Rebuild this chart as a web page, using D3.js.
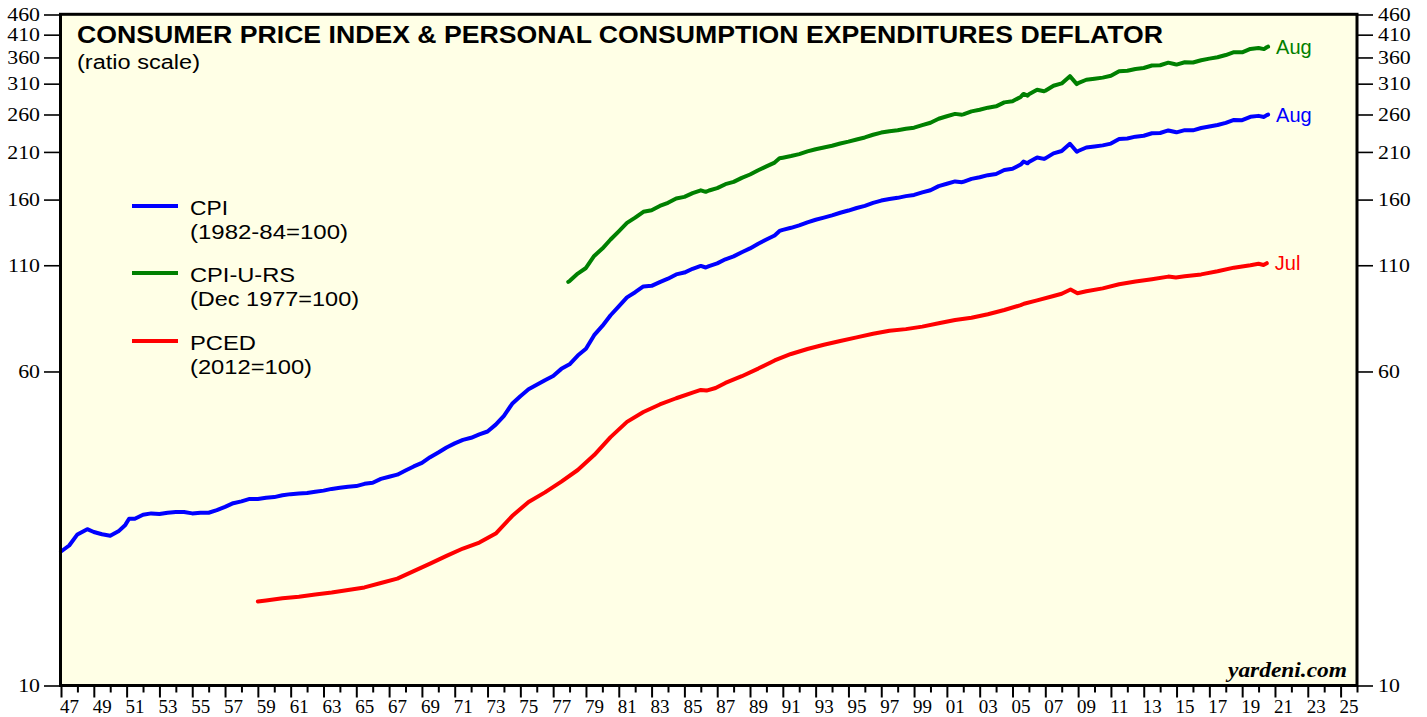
<!DOCTYPE html>
<html><head><meta charset="utf-8">
<script src="https://cdn.jsdelivr.net/npm/d3@7"></script>
<style>
html,body{margin:0;padding:0;background:#fff;}
svg{display:block;}
</style></head>
<body>
<svg id="chart" width="1427" height="717"></svg>
<script>
// ---- data (decimal year, index value) ----
const cpi = [[1947.0,21.48],[1947.5,22.23],[1948.0,23.68],[1948.6,24.40],[1949.0,24.01],[1949.5,23.70],[1950.0,23.51],[1950.5,24.10],[1950.92,25.00],[1951.15,25.90],[1951.5,25.90],[1952.0,26.50],[1952.5,26.70],[1953.0,26.60],[1953.5,26.80],[1954.0,26.90],[1954.5,26.90],[1955.0,26.70],[1955.5,26.80],[1956.0,26.80],[1956.5,27.20],[1957.0,27.70],[1957.5,28.30],[1958.0,28.60],[1958.5,29.00],[1959.0,29.00],[1959.5,29.20],[1960.0,29.30],[1960.5,29.60],[1961.0,29.80],[1961.5,29.90],[1962.0,30.00],[1962.5,30.20],[1963.0,30.40],[1963.5,30.70],[1964.0,30.90],[1964.5,31.10],[1965.0,31.20],[1965.5,31.60],[1966.0,31.80],[1966.5,32.50],[1967.0,32.90],[1967.5,33.30],[1968.0,34.10],[1968.5,34.90],[1969.0,35.60],[1969.5,36.80],[1970.0,37.80],[1970.5,38.90],[1971.0,39.80],[1971.5,40.60],[1972.0,41.10],[1972.5,41.90],[1973.0,42.60],[1973.5,44.30],[1974.0,46.60],[1974.5,49.90],[1975.0,52.10],[1975.5,54.20],[1976.0,55.60],[1976.5,57.10],[1977.0,58.50],[1977.5,60.90],[1978.0,62.50],[1978.5,65.70],[1979.0,68.30],[1979.5,73.80],[1980.0,77.80],[1980.5,82.70],[1981.0,87.00],[1981.5,91.60],[1982.0,94.30],[1982.5,97.50],[1983.0,97.80],[1983.5,99.90],[1984.0,101.90],[1984.5,104.40],[1985.0,105.50],[1985.5,107.80],[1986.0,109.60],[1986.3,108.60],[1986.5,109.50],[1987.0,111.20],[1987.5,113.80],[1988.0,115.70],[1988.5,118.50],[1989.0,121.10],[1989.5,124.40],[1990.0,127.40],[1990.5,130.40],[1990.8,133.80],[1991.0,134.60],[1991.5,136.20],[1992.0,138.10],[1992.5,140.50],[1993.0,142.60],[1993.5,144.40],[1994.0,146.20],[1994.5,148.40],[1995.0,150.30],[1995.5,152.50],[1996.0,154.40],[1996.5,157.00],[1997.0,159.10],[1997.5,160.50],[1998.0,161.60],[1998.5,163.20],[1999.0,164.30],[1999.5,166.70],[2000.0,168.80],[2000.5,172.80],[2001.0,175.10],[2001.5,177.50],[2001.92,176.70],[2002.0,177.10],[2002.5,180.10],[2003.0,181.70],[2003.5,183.90],[2004.0,185.20],[2004.5,189.40],[2005.0,190.70],[2005.5,195.40],[2005.67,198.80],[2005.92,196.80],[2006.0,198.30],[2006.5,203.50],[2006.92,201.80],[2007.0,202.42],[2007.5,208.30],[2008.0,211.08],[2008.5,219.96],[2008.92,210.23],[2009.0,211.14],[2009.5,215.35],[2010.0,216.69],[2010.5,218.01],[2011.0,220.22],[2011.5,225.92],[2012.0,226.67],[2012.5,229.10],[2013.0,230.28],[2013.5,233.60],[2014.0,233.92],[2014.5,237.40],[2014.92,235.20],[2015.0,234.80],[2015.5,237.80],[2016.0,237.50],[2016.5,240.65],[2017.0,242.84],[2017.5,244.79],[2018.0,247.87],[2018.5,252.01],[2019.0,251.71],[2019.5,256.57],[2020.0,257.97],[2020.33,256.39],[2020.5,259.10],[2020.58,259.92]];

const cpiURS = [[1977.92,100.0],[1978.0,100.5],[1978.5,104.9],[1979.0,108.3],[1979.5,116.0],[1980.0,121.0],[1980.5,127.4],[1981.0,133.5],[1981.5,140.1],[1982.0,144.3],[1982.5,149.2],[1983.0,150.6],[1983.5,154.3],[1984.0,157.1],[1984.5,161.0],[1985.0,162.5],[1985.5,166.0],[1986.0,168.7],[1986.3,167.2],[1986.5,168.5],[1987.0,170.8],[1987.5,174.7],[1988.0,177.0],[1988.5,181.1],[1989.0,184.6],[1989.5,189.2],[1990.0,193.4],[1990.5,197.6],[1990.8,202.5],[1991.0,203.2],[1991.5,205.1],[1992.0,207.4],[1992.5,210.6],[1993.0,213.2],[1993.5,215.3],[1994.0,217.5],[1994.5,220.4],[1995.0,222.7],[1995.5,225.5],[1996.0,228.1],[1996.5,231.6],[1997.0,234.5],[1997.5,236.4],[1998.0,237.7],[1998.5,239.7],[1999.0,241.2],[1999.5,244.7],[2000.0,248.0],[2000.5,253.8],[2001.0,257.4],[2001.5,260.9],[2001.92,259.7],[2002.0,260.3],[2002.5,264.7],[2003.0,267.1],[2003.5,270.3],[2004.0,272.4],[2004.5,278.6],[2005.0,280.5],[2005.5,287.4],[2005.67,292.4],[2005.92,289.5],[2006.0,291.7],[2006.5,299.3],[2006.92,296.8],[2007.0,297.8],[2007.5,306.4],[2008.0,310.5],[2008.5,323.6],[2008.92,309.2],[2009.0,310.8],[2009.5,317.0],[2010.0,319.0],[2010.5,320.9],[2011.0,324.2],[2011.5,332.6],[2012.0,333.7],[2012.5,337.2],[2013.0,339.0],[2013.5,343.9],[2014.0,344.3],[2014.5,349.5],[2014.92,346.2],[2015.0,345.7],[2015.5,350.2],[2016.0,349.7],[2016.5,354.4],[2017.0,357.6],[2017.5,360.4],[2018.0,365.0],[2018.5,371.1],[2019.0,370.7],[2019.5,377.9],[2020.0,379.9],[2020.33,377.6],[2020.5,381.6],[2020.58,382.8]];

const pced = [[1959.0,16.15],[1959.5,16.25],[1960.5,16.45],[1961.5,16.6],[1962.5,16.8],[1963.5,17.0],[1964.5,17.25],[1965.5,17.5],[1966.5,17.95],[1967.5,18.4],[1968.5,19.2],[1969.5,20.05],[1970.5,20.95],[1971.5,21.85],[1972.5,22.6],[1973.5,23.8],[1974.5,26.3],[1975.5,28.5],[1976.5,30.1],[1977.5,32.0],[1978.5,34.2],[1979.5,37.25],[1980.5,41.25],[1981.5,45.0],[1982.5,47.6],[1983.5,49.7],[1984.5,51.5],[1985.5,53.2],[1986.0,54.0],[1986.35,53.8],[1986.9,54.6],[1987.5,56.2],[1988.5,58.4],[1989.5,61.0],[1990.5,63.9],[1991.5,66.3],[1992.5,68.2],[1993.5,69.9],[1994.5,71.4],[1995.5,72.9],[1996.5,74.4],[1997.5,75.7],[1998.5,76.4],[1999.5,77.5],[2000.5,79.0],[2001.5,80.5],[2002.5,81.5],[2003.5,83.2],[2004.5,85.2],[2005.5,87.6],[2005.7,88.3],[2006.5,90.0],[2007.5,92.3],[2008.0,93.5],[2008.54,95.8],[2008.96,93.8],[2009.5,94.8],[2010.5,96.4],[2011.5,98.7],[2012.5,100.3],[2013.5,101.6],[2014.5,103.1],[2014.96,102.6],[2015.5,103.3],[2016.5,104.4],[2017.5,106.3],[2018.5,108.5],[2019.5,110.0],[2020.0,110.9],[2020.3,110.2],[2020.5,111.3]];

const yTicks = [10, 60, 110, 160, 210, 260, 310, 360, 410, 460];
const xYears = d3.range(1947, 2027);
const seriesNames = ["CPI", "CPI-U-RS", "PCED"];
const seriesBases = ["(1982-84=100)", "(Dec 1977=100)", "(2012=100)"];
const seriesColors = ["#0000FF", "#008000", "#FF0000"];
const endLabels = ["Aug", "Aug", "Jul"];
const seriesData = [cpi, cpiURS, pced];

const titleText = "CONSUMER PRICE INDEX & PERSONAL CONSUMPTION EXPENDITURES DEFLATOR";
const subtitleText = "(ratio scale)";
const sourceText = "yardeni.com";

// ---- layout ----
const svg = d3.select("#chart");
const L = 60.5, R = 1357, T = 14.3, B = 685.5;
const x = d3.scaleLinear().domain([1947, 2026]).range([61, 1357]);
const y = d3.scaleLog().domain([10, 460]).range([B, 14.5]);
const SANS = "'Liberation Sans', Arial, Helvetica, sans-serif";
const SERIF = "'Liberation Serif', 'Times New Roman', serif";

svg.append("rect").attr("x", L).attr("y", T).attr("width", R - L).attr("height", B - T)
  .attr("fill", "#FFFFE6");

// left axis
const gl = svg.append("g").attr("transform", `translate(${L - 0.5},0)`)
  .call(d3.axisLeft(y).tickValues(yTicks).tickSize(16).tickPadding(0).tickFormat(d3.format("d")));
gl.select(".domain").remove();
gl.selectAll(".tick line").attr("stroke", "#000").attr("stroke-width", 1.6);
gl.selectAll(".tick text").attr("x", null).attr("dy", "0.33em")
  .attr("transform", "translate(-20,0) scale(1.15,1)")
  .style("font-family", SERIF).style("font-size", "19px").attr("fill", "#000");

// right axis
const gr = svg.append("g").attr("transform", `translate(${R + 1},0)`)
  .call(d3.axisRight(y).tickValues(yTicks).tickSize(15).tickPadding(0).tickFormat(d3.format("d")));
gr.select(".domain").remove();
gr.selectAll(".tick line").attr("stroke", "#000").attr("stroke-width", 1.6);
gr.selectAll(".tick text").attr("x", null).attr("dy", "0.33em")
  .attr("transform", "translate(20,0) scale(1.15,1)")
  .style("font-family", SERIF).style("font-size", "19px").attr("fill", "#000");

// bottom axis
const gb = svg.append("g").attr("transform", `translate(0,${B + 1})`)
  .call(d3.axisBottom(x).tickValues(xYears).tickSize(11).tickPadding(1)
    .tickFormat(d => d % 2 === 1 ? String(d).slice(2) : ""));
gb.select(".domain").remove();
gb.selectAll(".tick line").attr("stroke", "#000").attr("stroke-width", 2)
  .attr("y2", d => d % 2 === 1 ? 11 : 6);
gb.selectAll(".tick text").attr("x", 8).attr("dy", "0.74em")
  .style("font-family", SERIF).style("font-size", "19px").attr("fill", "#000");

// series lines
const line = d3.line().x(d => x(d[0])).y(d => y(d[1]));
seriesData.forEach((s, i) => {
  svg.append("path").datum(s).attr("d", line)
    .attr("fill", "none").attr("stroke", seriesColors[i]).attr("stroke-width", 4)
    .attr("stroke-linejoin", "round").attr("stroke-linecap", "round");
  const last = s[s.length - 1];
  svg.append("text").attr("x", x(last[0]) + 8).attr("y", y(last[1]) + 7)
    .text(endLabels[i]).attr("fill", seriesColors[i])
    .style("font-family", SANS).style("font-size", "20px");
});

// frame
svg.append("rect").attr("x", L).attr("y", T).attr("width", R - L).attr("height", B - T)
  .attr("fill", "none").attr("stroke", "#000").attr("stroke-width", 3);

// title
svg.append("text").attr("x", 77).attr("y", 43).text(titleText)
  .attr("textLength", 1086).attr("lengthAdjust", "spacingAndGlyphs")
  .style("font-family", SANS).style("font-size", "23px").style("font-weight", "bold").attr("fill", "#000");
svg.append("text").attr("x", 77).attr("y", 69).text(subtitleText)
  .attr("textLength", 123).attr("lengthAdjust", "spacingAndGlyphs")
  .style("font-family", SANS).style("font-size", "20px").attr("fill", "#000");

// legend
const legendY = [206, 273, 341];
const nameW = [38, 105, 66], baseW = [158, 169, 122];
seriesNames.forEach((n, i) => {
  svg.append("line").attr("x1", 132).attr("x2", 178).attr("y1", legendY[i]).attr("y2", legendY[i])
    .attr("stroke", seriesColors[i]).attr("stroke-width", 4);
  svg.append("text").attr("x", 190).attr("y", legendY[i] + 9).text(n)
    .attr("textLength", nameW[i]).attr("lengthAdjust", "spacingAndGlyphs")
    .style("font-family", SANS).style("font-size", "20px").attr("fill", "#000");
  svg.append("text").attr("x", 190).attr("y", legendY[i] + 33).text(seriesBases[i])
    .attr("textLength", baseW[i]).attr("lengthAdjust", "spacingAndGlyphs")
    .style("font-family", SANS).style("font-size", "20px").attr("fill", "#000");
});

// source
svg.append("text").attr("x", 1228).attr("y", 677).text(sourceText)
  .attr("textLength", 119).attr("lengthAdjust", "spacingAndGlyphs")
  .style("font-family", SERIF).style("font-size", "20px").style("font-weight", "bold")
  .style("font-style", "italic").attr("fill", "#000");
</script>
</body></html>
